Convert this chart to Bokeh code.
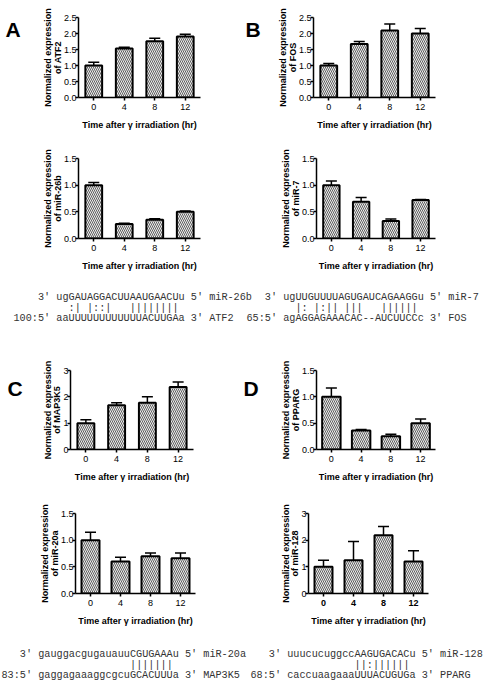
from bokeh.plotting import figure
from bokeh.models import (FactorRange, Range1d, ColumnDataSource, Whisker, TeeHead,
                          FixedTicker, NumeralTickFormatter)
from bokeh.layouts import column, row
from bokeh.embed import file_html
from bokeh.resources import INLINE
from bokeh.core.properties import value

# ---------------- data ----------------
times = ["0", "4", "8", "12"]

atf2_mean = [1.00, 1.53, 1.76, 1.91]
atf2_err = [0.10, 0.04, 0.09, 0.07]
mir26b_mean = [1.00, 0.27, 0.35, 0.50]
mir26b_err = [0.05, 0.015, 0.02, 0.015]
fos_mean = [1.00, 1.67, 2.09, 2.00]
fos_err = [0.06, 0.08, 0.21, 0.16]
mir7_mean = [1.00, 0.69, 0.33, 0.72]
mir7_err = [0.08, 0.08, 0.035, 0.01]
map3k5_mean = [1.00, 1.68, 1.78, 2.37]
map3k5_err = [0.13, 0.10, 0.22, 0.19]
mir20a_mean = [1.00, 0.60, 0.70, 0.66]
mir20a_err = [0.15, 0.08, 0.06, 0.10]
pparg_mean = [1.00, 0.36, 0.25, 0.50]
pparg_err = [0.17, 0.02, 0.04, 0.08]
mir128_mean = [1.00, 1.25, 2.18, 1.20]
mir128_err = [0.25, 0.70, 0.33, 0.40]

ticks_25 = [0.0, 0.5, 1.0, 1.5, 2.0, 2.5]
ticks_15 = [0.0, 0.5, 1.0, 1.5]
ticks_3 = [0, 1, 2, 3]

panel_letters = ["A", "B", "C", "D"]
x_label = "Time after \u03b3 irradiation (hr)"
y_label = "Normalized expression"

seq_26b_atf2 = ["3' ugGAUAGGACUUAAUGAACUu 5' miR-26b",
                ":| |::|   ||||||||",
                "100:5' aaUUUUUUUUUUUUACUUGAa 3' ATF2"]
seq_7_fos = ["3' ugUUGUUUUAGUGAUCAGAAGGu 5' miR-7",
             "|: |:|| |||   ||||||",
             "65:5' agAGGAGAAACAC--AUCUUCCc 3' FOS"]
seq_20a_map3k5 = ["3' gauggacgugauauuCGUGAAAu 5' miR-20a",
                  "|||||||",
                  "83:5' gaggagaaaggcgcuGCACUUUa 3' MAP3K5"]
seq_128_pparg = ["3' uuucucuggccAAGUGACACu 5' miR-128",
                 "||:||||||",
                 "68:5' caccuaagaaaUUUACUGUGa 3' PPARG"]

FONT = "Liberation Sans"
MONO = "Liberation Mono"


def blank(width, height):
    p = figure(width=width, height=height, x_range=Range1d(0, width), y_range=Range1d(height, 0),
               output_backend="svg", toolbar_location=None,
               x_axis_location=None, y_axis_location=None,
               min_border_left=0, min_border_right=0, min_border_top=0, min_border_bottom=0)
    p.outline_line_color = None
    p.xgrid.visible = False
    p.ygrid.visible = False
    return p


def letter_fig(letter, width, height, lx, ly):
    p = blank(width, height)
    p.text(x=[lx], y=[ly], text=[letter], text_font=value(FONT), text_font_size="21px",
           text_font_style="bold", text_color="black", text_align="left",
           text_baseline="alphabetic")
    return p


def bar_chart(gene, mean, err, ticks, fmt, fig_w, fig_h, left, top, frame_w, frame_h,
              bar_w, bold_x=False):
    ymax = ticks[-1]
    p = figure(width=fig_w, height=fig_h,
               x_range=FactorRange(factors=times, range_padding=0),
               y_range=Range1d(0, ymax),
               output_backend="svg", toolbar_location=None,
               min_border_left=left, min_border_top=top,
               min_border_right=fig_w - left - frame_w,
               min_border_bottom=fig_h - top - frame_h)
    p.outline_line_color = None
    p.background_fill_color = "white"
    p.border_fill_color = "white"
    p.xgrid.visible = False
    p.ygrid.visible = False

    src = ColumnDataSource(dict(x=times, top=mean,
                                upper=[m + e for m, e in zip(mean, err)]))
    p.vbar(x="x", top="top", width=bar_w, source=src,
           fill_color="#ececec", line_color="black", line_width=2,
           hatch_pattern="\\", hatch_color="#505050", hatch_scale=4, hatch_weight=0.9)
    w = Whisker(source=src, base="x", upper="upper", lower="top",
                line_color="black", line_width=1.5, level="overlay",
                upper_head=TeeHead(size=11, line_width=1.5, line_color="black"),
                lower_head=None)
    p.add_layout(w)

    for ax in (p.xaxis[0], p.yaxis[0]):
        ax.axis_line_color = "black"
        ax.axis_line_width = 1.5
        ax.major_tick_line_color = "black"
        ax.major_tick_line_width = 1.5
        ax.major_tick_out = 3
        ax.major_tick_in = 0
        ax.minor_tick_out = 0
        ax.minor_tick_in = 0
        ax.major_label_text_font = FONT
        ax.major_label_text_font_size = "9px"
        ax.major_label_text_color = "black"
        ax.axis_label_text_font = FONT
        ax.axis_label_text_font_size = "9px"
        ax.axis_label_text_font_style = "bold"
        ax.axis_label_text_color = "black"
        ax.axis_label_text_line_height = 0.95
    p.yaxis.ticker = FixedTicker(ticks=ticks)
    p.yaxis.formatter = NumeralTickFormatter(format=fmt)
    p.yaxis.major_label_standoff = -1
    p.yaxis.axis_label_standoff = -2
    p.yaxis.axis_label = y_label + "\nof " + gene
    p.xaxis.axis_label = x_label
    p.xaxis.major_label_standoff = 3
    p.xaxis.axis_label_standoff = 7
    if bold_x:
        p.xaxis.major_label_text_font_style = "bold"
    return p


def seq_fig(blocks, width, h, ys, char_w=6.12, size="10.2px"):
    p = blank(width, h)
    xs, yy, tx = [], [], []
    for (mir, match, tgt), x0 in blocks:
        tgt_col = tgt.index("5' ") + 3
        mir_col = tgt_col - (mir.index("' ") + 2)
        mseq = mir.split(" ")[1]
        first_up = next(i for i, c in enumerate(mseq) if c.isupper())
        match_col = tgt_col + first_up
        for line, col, y in ((mir, mir_col, ys[0]), (match, match_col, ys[1]), (tgt, 0, ys[2])):
            xs.append(x0 + col * char_w)
            yy.append(y)
            tx.append(line.replace(" ", "\u00a0"))
    p.text(x=xs, y=yy, text=tx, text_font=value(MONO), text_font_size=size,
           text_baseline="middle", text_align="left", text_color="#333333")
    return p


LW = 30  # width of the strip that holds a panel letter

# row 1 (height 133)
LA = letter_fig(panel_letters[0], LW, 133, 5, 20)
A1 = bar_chart("ATF2", atf2_mean, atf2_err, ticks_25, "0.0", 240 - LW, 133, 78 - LW, 17, 122, 80, 0.55)
LB = letter_fig(panel_letters[1], LW, 133, 5, 20)
B1 = bar_chart("FOS", fos_mean, fos_err, ticks_25, "0.0", 243 - LW, 133, 73 - LW, 17, 122, 80, 0.55)

# row 2 (height 149)
A2 = bar_chart("miR-26b", mir26b_mean, mir26b_err, ticks_15, "0.0", 240, 149, 78, 24, 122, 81, 0.55)
B2 = bar_chart("miR-7", mir7_mean, mir7_err, ticks_15, "0.0", 243, 149, 76, 25, 119, 81, 0.55)

# sequences 1 (height 54)
T1 = seq_fig([(seq_26b_atf2, 13), (seq_7_fos, 246)], 483, 54, [15, 25.5, 36])

# row 3 (height 150)
LC = letter_fig(panel_letters[2], LW, 150, 7, 35)
C1 = bar_chart("MAP3K5", map3k5_mean, map3k5_err, ticks_3, "0", 240 - LW, 150, 70 - LW, 34, 123, 80, 0.55)
LD = letter_fig(panel_letters[3], LW, 150, 3, 35)
D1 = bar_chart("PPARG", pparg_mean, pparg_err, ticks_15, "0.0", 243 - LW, 150, 76 - LW, 34, 119, 79, 0.62)

# row 4 (height 146)
C2 = bar_chart("miR-20a", mir20a_mean, mir20a_err, ticks_15, "0.0", 240, 146, 75, 27, 120, 80, 0.6)
D2 = bar_chart("miR-128", mir128_mean, mir128_err, ticks_3, "0", 243, 146, 68, 27, 120, 80, 0.6,
               bold_x=True)

# sequences 2 (height 53)
T2 = seq_fig([(seq_20a_map3k5, 1), (seq_128_pparg, 250)], 483, 53, [22, 32.5, 43])

layout = column(row(LA, A1, LB, B1), row(A2, B2), T1, row(LC, C1, LD, D1), row(C2, D2), T2)

open("out.html", "w").write(file_html(layout, INLINE))
